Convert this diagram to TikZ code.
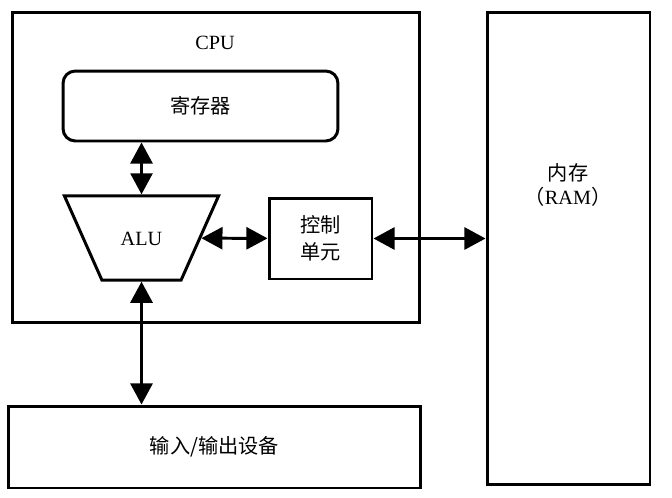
\documentclass[tikz,border=0pt]{standalone}
\usepackage{fontspec}
\setmainfont{Liberation Serif}
\newfontfamily\cjk{Noto Sans CJK SC}
\usetikzlibrary{arrows.meta,shapes.geometric,positioning}

\tikzset{
  box/.style={draw, line width=1.7pt, inner sep=0pt, align=center},
  link/.style={line width=1.7pt, {Triangle[length=12pt,width=12.5pt]}-{Triangle[length=12pt,width=12.5pt]}},
}

\begin{document}
\begin{tikzpicture}[x=0.02cm, y=-0.02cm, font=\fontsize{11.5}{15}\selectfont]
	\useasboundingbox (0,0) rectangle (672,497);
	% CPU and its parts
	\node[box, minimum width=8.16cm, minimum height=6.22cm] (cpu) at (216,167.5) {};
	\node (cpulabel) at (215,43) {CPU};
	\node[box, rounded corners=7pt, minimum width=5.5cm, minimum height=1.4cm] (reg) at (200.5,106) {\cjk 寄存器};
	\node[box, trapezium, trapezium angle=66, shape border rotate=180,
		inner xsep=10.7pt, inner ysep=20pt, text height=8pt, text depth=0pt] (alu) at (141.5,238) {ALU};
	\node[box, minimum width=2.06cm, minimum height=1.62cm, font=\cjk\fontsize{11.5}{15.5}\selectfont] (ctrl) at (320.5,238.5) {控制\\单元};
	% memory and devices
	\node[box, minimum width=3.26cm, minimum height=9.46cm] (ram) at (568.5,248.5) {};
	\node[align=center, font=\fontsize{11.5}{13.7}\selectfont] (ramlabel) at (568,185) {\cjk 内存\\{\cjk （}RAM{\cjk ）}};
	\node[box, minimum width=8.26cm, minimum height=1.64cm] (io) at (214.5,447) {\cjk 输入/输出设备};
	% connections
	\draw[link] (alu.north) -- (alu.north |- reg.south);
	\draw[link] (alu) -- (ctrl);
	\draw[link] (ctrl.east) -- (ctrl.east -| ram.west);
	\draw[link] (alu.south) -- (alu.south |- io.north);
\end{tikzpicture}
\end{document}
